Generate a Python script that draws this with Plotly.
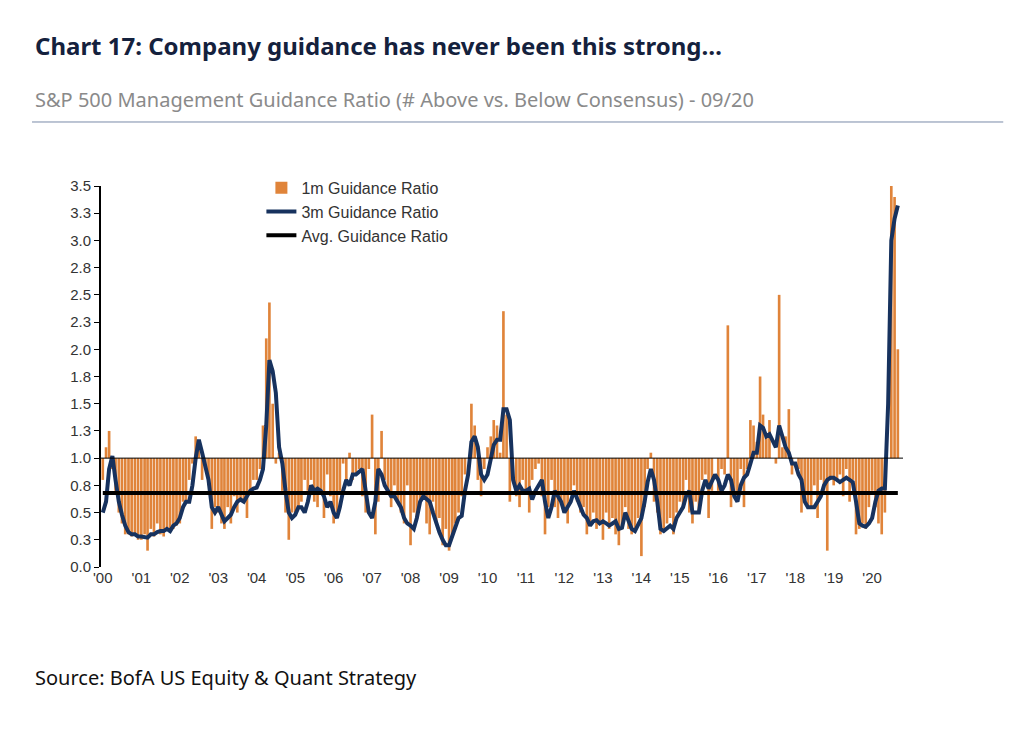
import pandas as pd
import plotly.graph_objects as go

# monthly 1m guidance ratio, Jan 2000 - Sep 2020
m1 = [0.8, 1.1, 1.25, 0.9, 0.7, 0.5, 0.4, 0.3, 0.3, 0.28, 0.3, 0.25,
      0.25, 0.3, 0.15, 0.35, 0.28, 0.4, 0.3, 0.28, 0.35, 0.35, 0.35, 0.38,
      0.4, 0.6, 0.6, 0.8, 0.95, 1.2, 1.15, 0.8, 0.9, 0.75, 0.35, 0.55,
      0.5, 0.4, 0.35, 0.55, 0.4, 0.65, 0.5, 0.6, 0.6, 0.45, 0.7, 0.8,
      0.8, 0.9, 1.3, 2.1, 2.43, 1.5, 0.95, 1.05, 0.7, 0.5, 0.25, 0.5,
      0.5, 0.55, 0.6, 0.8, 0.7, 0.8, 0.6, 0.55, 0.7, 0.45, 0.85, 0.65,
      0.4, 0.5, 0.7, 0.95, 0.75, 1.05, 0.8, 0.85, 0.9, 0.65, 0.5, 0.9,
      1.4, 0.3, 0.6, 1.25, 0.8, 0.7, 0.55, 0.75, 0.6, 0.5, 0.4, 0.75,
      0.2, 0.5, 0.45, 0.6, 0.65, 0.4, 0.3, 0.6, 0.4, 0.45, 0.2, 0.35,
      0.15, 0.3, 0.4, 0.5, 0.65, 0.85, 1.0, 1.5, 1.3, 0.8, 0.65, 0.9,
      1.1, 1.2, 1.35, 1.3, 1.05, 2.35, 1.4, 0.6, 1.0, 0.65, 0.55, 0.8,
      0.7, 0.5, 0.8, 0.9, 0.95, 0.65, 0.3, 0.55, 0.8, 0.55, 0.45, 0.6,
      0.5, 0.4, 0.7, 0.75, 0.6, 0.5, 0.55, 0.3, 0.4, 0.5, 0.35, 0.4,
      0.25, 0.5, 0.35, 0.45, 0.3, 0.2, 0.35, 0.55, 0.35, 0.3, 0.35, 0.45,
      0.1, 0.55, 0.9, 1.05, 0.6, 0.5, 0.3, 0.35, 0.4, 0.45, 0.3, 0.5,
      0.6, 0.55, 0.8, 0.5, 0.4, 0.6, 0.5, 0.8, 0.85, 0.45, 0.7, 1.0,
      0.7, 0.9, 0.85, 2.22, 0.55, 0.7, 0.65, 0.9, 0.55, 0.9, 1.35, 1.3,
      1.15, 1.75, 1.4, 1.2, 1.35, 1.0, 0.95, 2.5, 1.1, 1.2, 1.45, 0.85,
      1.0, 0.9, 0.5, 0.6, 0.55, 0.55, 0.75, 0.45, 0.8, 0.7, 0.15, 0.8,
      0.75, 0.8, 0.85, 0.65, 0.9, 0.6, 0.8, 0.3, 0.35, 0.4, 0.35, 0.55,
      0.7, 0.55, 0.4, 0.3, 0.5, 1.0, 3.5, 3.4, 2.0]

# monthly 3m guidance ratio
m3 = [0.5, 0.6, 0.9, 1.02, 0.8, 0.6, 0.48, 0.38, 0.32, 0.3, 0.3, 0.28,
      0.28, 0.27, 0.27, 0.3, 0.3, 0.32, 0.33, 0.33, 0.35, 0.33, 0.38, 0.4,
      0.45, 0.55, 0.6, 0.6, 0.75, 1.0, 1.17, 1.05, 0.9, 0.8, 0.55, 0.5,
      0.55, 0.48, 0.42, 0.45, 0.48, 0.55, 0.6, 0.62, 0.6, 0.65, 0.7, 0.72,
      0.73, 0.8, 0.9, 1.3, 1.9, 1.8, 1.6, 1.1, 0.95, 0.7, 0.5, 0.45,
      0.48, 0.55, 0.55, 0.5, 0.6, 0.75, 0.7, 0.72, 0.7, 0.65, 0.55, 0.6,
      0.5, 0.45, 0.55, 0.7, 0.8, 0.75, 0.85, 0.85, 0.88, 0.9, 0.7, 0.5,
      0.45, 0.6, 0.9, 0.85, 0.75, 0.7, 0.65, 0.65, 0.6, 0.55, 0.45, 0.4,
      0.38, 0.35, 0.45, 0.6, 0.65, 0.62, 0.6, 0.5, 0.4, 0.32, 0.25, 0.2,
      0.2, 0.28, 0.35, 0.45, 0.47, 0.7, 0.85, 1.15, 1.2, 1.1, 0.85, 0.8,
      0.85, 1.0, 1.12, 1.17, 1.17, 1.45, 1.45, 1.35, 0.8, 0.7, 0.75, 0.7,
      0.7, 0.72, 0.62, 0.7, 0.75, 0.8, 0.6, 0.45, 0.55, 0.7, 0.65, 0.6,
      0.5, 0.55, 0.6, 0.7, 0.62, 0.55, 0.48, 0.45, 0.38, 0.42, 0.43, 0.4,
      0.42, 0.4, 0.38, 0.4, 0.42, 0.35, 0.36, 0.5, 0.42, 0.35, 0.33, 0.4,
      0.45, 0.6, 0.78, 0.9, 0.8, 0.6, 0.35, 0.33, 0.36, 0.38, 0.35, 0.45,
      0.5, 0.55, 0.65, 0.7, 0.5, 0.5, 0.5, 0.7, 0.8, 0.72, 0.78, 0.85,
      0.8, 0.7, 0.75, 0.85, 0.8, 0.65, 0.6, 0.75, 0.82, 0.85, 0.95, 1.05,
      1.05, 1.3, 1.28, 1.2, 1.22, 1.15, 1.1, 1.3, 1.2, 1.1, 1.05, 0.95,
      0.95, 0.85, 0.8, 0.6, 0.55, 0.55, 0.55, 0.6, 0.65, 0.75, 0.8, 0.82,
      0.82, 0.8, 0.78, 0.8, 0.82, 0.8, 0.78, 0.6, 0.4, 0.38, 0.37, 0.4,
      0.45, 0.6, 0.7, 0.72, 0.72, 1.5, 3.0, 3.2, 3.32]

avg_ratio = 0.68
dates = pd.date_range("2000-01-01", periods=len(m1), freq="MS")
year_ticks = pd.date_range("2000-01-01", "2020-01-01", freq="YS")
year_labels = ["'%02d" % (d.year % 100) for d in year_ticks]
y_ticks = [i * 0.25 for i in range(15)]
y_labels = ["%.1f" % (v + 1e-9) for v in y_ticks]

orange = "#E0843A"
navy = "#17325E"

fig = go.Figure()
fig.add_trace(go.Bar(x=dates, y=[v - 1 for v in m1], base=1, name="1m Guidance Ratio",
                     marker_color=orange, marker_line_width=0))
fig.add_trace(go.Scatter(x=dates, y=m3, mode="lines", name="3m Guidance Ratio",
                         line=dict(color=navy, width=4)))
fig.add_trace(go.Scatter(x=[dates[0], dates[-1]], y=[avg_ratio, avg_ratio], mode="lines",
                         name="Avg. Guidance Ratio", line=dict(color="black", width=4)))
fig.add_hline(y=1, line_color="black", line_width=1)

fig.update_layout(
    width=1024, height=729, paper_bgcolor="white", plot_bgcolor="white",
    margin=dict(l=93, r=129, t=178, b=170),
    bargap=0.1, showlegend=True,
    font=dict(family="Liberation Sans", size=15, color="#333"),
    legend=dict(x=0.2, y=1.04, xanchor="left", yanchor="top", bgcolor="rgba(0,0,0,0)",
                font=dict(size=16, color="#333"), tracegroupgap=0),
    xaxis=dict(type="date", range=["1999-12-15", "2020-10-20"], tickvals=year_ticks,
               ticktext=year_labels, showgrid=False, showline=False, ticks=""),
    yaxis=dict(range=[0, 3.5], tickvals=y_ticks, ticktext=y_labels, showgrid=False,
               showline=True, linecolor="black", linewidth=2, ticks="outside",
               ticklen=5, tickcolor="black"),
)
fig.add_annotation(text="<b>Chart 17: Company guidance has never been this strong…</b>",
                   xref="paper", yref="paper", x=-0.085, y=1.37, xanchor="left", yanchor="middle",
                   showarrow=False, font=dict(family="Noto Sans", size=24, color="#14213d"))
fig.add_annotation(text="S&P 500 Management Guidance Ratio (# Above vs. Below Consensus) - 09/20",
                   xref="paper", yref="paper", x=-0.085, y=1.226, xanchor="left", yanchor="middle",
                   showarrow=False, font=dict(family="Noto Sans", size=20, color="#8a8a8a"))
fig.add_shape(type="line", xref="paper", yref="paper", x0=-0.086, x1=1.125, y0=1.168, y1=1.168,
              line=dict(color="#7a8aa8", width=1))
fig.add_annotation(text="Source: BofA US Equity & Quant Strategy",
                   xref="paper", yref="paper", x=-0.085, y=-0.289, xanchor="left", yanchor="middle",
                   showarrow=False, font=dict(family="Noto Sans", size=20, color="#111"))

fig.write_html("out.html")
